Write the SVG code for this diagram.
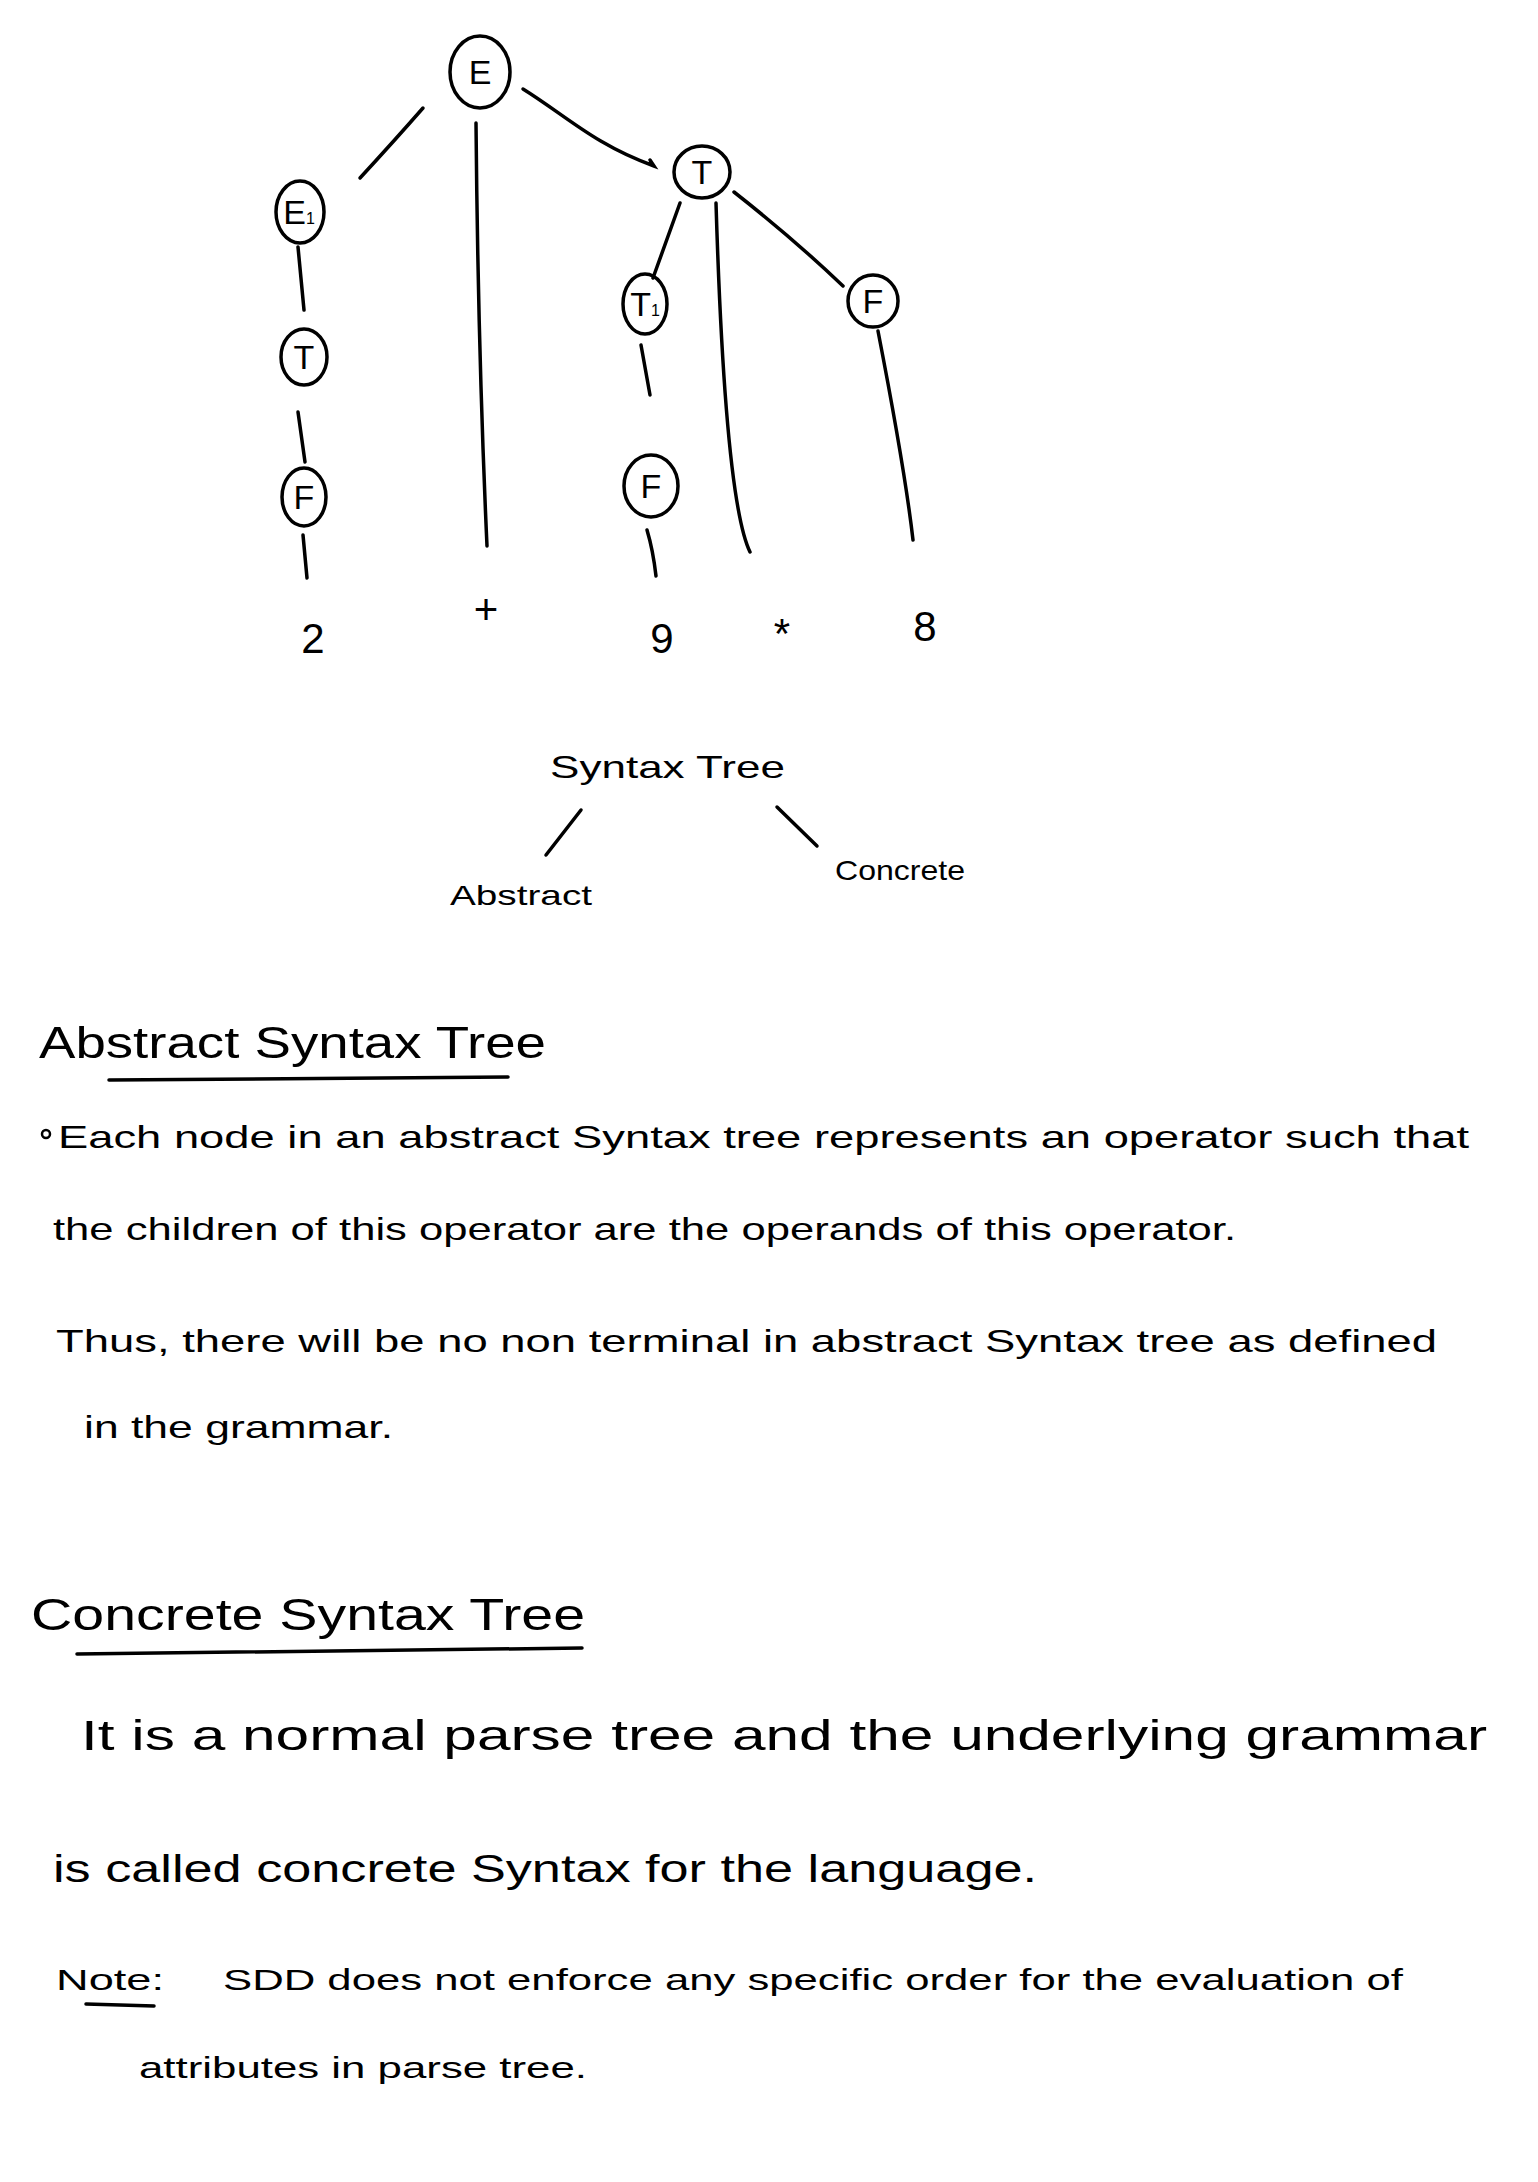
<svg xmlns="http://www.w3.org/2000/svg" width="1538" height="2182" viewBox="0 0 1538 2182">
<style>
.n{fill:none;stroke:#000;stroke-width:3.5}
.c{fill:none;stroke:#000;stroke-width:3.5;stroke-linecap:round}
.l{font-family:"Liberation Sans",Arial,sans-serif;font-size:34px;fill:#000;text-anchor:middle}
.lf{font-family:"Liberation Sans",Arial,sans-serif;font-size:42px;fill:#000;text-anchor:middle}
.t{font-family:"Liberation Sans",Arial,sans-serif;fill:#000}
</style>
<rect width="1538" height="2182" fill="#fff"/>
<g id="connectors">
<path class="c" d="M423,108 Q395,140 360,178"/>
<path class="c" d="M476,123 Q478,350 487,546"/>
<path class="c" d="M523,89 C565,115 595,145 654,166 L650,160"/>
<path class="c" d="M298,247 L304,310"/>
<path class="c" d="M298,412 L305,462"/>
<path class="c" d="M303,535 L307,578"/>
<path class="c" d="M680,203 L653,278"/>
<path class="c" d="M716,203 Q725,500 750,552"/>
<path class="c" d="M734,192 Q795,240 843,286"/>
<path class="c" d="M641,345 L650,395"/>
<path class="c" d="M647,530 Q653,550 656,576"/>
<path class="c" d="M878,331 Q905,470 913,540"/>
<path class="c" d="M581,810 L546,855"/>
<path class="c" d="M777,807 L817,846"/>
</g>
<g id="node-E"><ellipse class="n" cx="480" cy="72" rx="30" ry="36"/><text class="l" x="480" y="84">E</text></g>
<g id="node-E1"><ellipse class="n" cx="300" cy="212" rx="24" ry="31"/><text class="l" x="299" y="224" font-size="30">E<tspan font-size="16">1</tspan></text></g>
<g id="node-T-left"><ellipse class="n" cx="304" cy="357" rx="23" ry="28"/><text class="l" x="304" y="369">T</text></g>
<g id="node-F-left"><ellipse class="n" cx="304" cy="497" rx="22" ry="29"/><text class="l" x="304" y="509">F</text></g>
<g id="node-T-right"><ellipse class="n" cx="702" cy="172" rx="28" ry="26"/><text class="l" x="702" y="184">T</text></g>
<g id="node-T1"><ellipse class="n" cx="645" cy="304" rx="22" ry="30"/><text class="l" x="645" y="316" font-size="30">T<tspan font-size="16">1</tspan></text></g>
<g id="node-F-mid"><ellipse class="n" cx="651" cy="486" rx="27" ry="31"/><text class="l" x="651" y="498">F</text></g>
<g id="node-F-right"><ellipse class="n" cx="873" cy="301" rx="25" ry="26"/><text class="l" x="873" y="313">F</text></g>
<g id="leaf-2"><text class="lf" x="313" y="653">2</text></g>
<g id="leaf-plus"><text class="lf" x="486" y="624">+</text></g>
<g id="leaf-9"><text class="lf" x="662" y="653">9</text></g>
<g id="leaf-star"><text class="lf" x="782" y="648">*</text></g>
<g id="leaf-8"><text class="lf" x="925" y="641">8</text></g>
<g id="node-syntax-tree"><text class="t" x="550" y="778" font-size="32" textLength="235" lengthAdjust="spacingAndGlyphs">Syntax Tree</text></g>
<g id="node-abstract"><text class="t" x="450" y="905" font-size="28" textLength="142" lengthAdjust="spacingAndGlyphs">Abstract</text></g>
<g id="node-concrete"><text class="t" x="835" y="880" font-size="28" textLength="130" lengthAdjust="spacingAndGlyphs">Concrete</text></g>
<g id="notes">
<text class="t" x="39" y="1058" font-size="44" textLength="507" lengthAdjust="spacingAndGlyphs">Abstract Syntax Tree</text>
<path class="c" d="M109,1080 L508,1077"/>
<circle cx="46" cy="1134" r="4" fill="none" stroke="#000" stroke-width="2.5"/>
<text class="t" x="58" y="1148" font-size="32" textLength="1411" lengthAdjust="spacingAndGlyphs">Each node in an abstract Syntax tree represents an operator such that</text>
<text class="t" x="53" y="1240" font-size="32" textLength="1183" lengthAdjust="spacingAndGlyphs">the children of this operator are the operands of this operator.</text>
<text class="t" x="56" y="1352" font-size="32" textLength="1381" lengthAdjust="spacingAndGlyphs">Thus, there will be no non terminal in abstract Syntax tree as defined</text>
<text class="t" x="84" y="1438" font-size="32" textLength="309" lengthAdjust="spacingAndGlyphs">in the grammar.</text>
<text class="t" x="31" y="1630" font-size="44" textLength="554" lengthAdjust="spacingAndGlyphs">Concrete Syntax Tree</text>
<path class="c" d="M77,1654 L582,1648"/>
<text class="t" x="81" y="1750" font-size="42" textLength="1406" lengthAdjust="spacingAndGlyphs">It is a normal parse tree and the underlying grammar</text>
<text class="t" x="53" y="1882" font-size="38" textLength="984" lengthAdjust="spacingAndGlyphs">is called concrete Syntax for the language.</text>
<text class="t" x="56" y="1990" font-size="30" textLength="108" lengthAdjust="spacingAndGlyphs">Note:</text>
<path class="c" d="M86,2004 L154,2006" stroke-width="5"/>
<text class="t" x="223" y="1990" font-size="30" textLength="1180" lengthAdjust="spacingAndGlyphs">SDD does not enforce any specific order for the evaluation of</text>
<text class="t" x="139" y="2078" font-size="30" textLength="448" lengthAdjust="spacingAndGlyphs">attributes in parse tree.</text>
</g>
</svg>
